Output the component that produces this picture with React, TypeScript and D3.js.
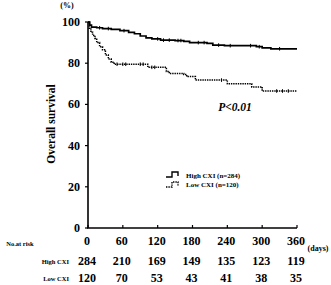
import { useRef, useEffect } from 'react';
import * as d3 from 'd3';

const W = 331;
const H = 285;

// Kaplan-Meier estimates (day, % surviving)
const highDays = [0, 3, 6, 15, 25, 40, 55, 70, 80, 90, 100, 110, 125, 150, 165, 175, 205, 215, 235, 290, 300, 315, 360];
const highSurv = [100, 98.5, 97.5, 97.2, 96.8, 96.4, 95.8, 95.0, 94.3, 93.2, 92.3, 91.8, 91.2, 91.0, 90.6, 90.0, 89.6, 88.8, 88.5, 88.0, 87.4, 87.0, 87.0];
const lowDays = [0, 2, 5, 8, 12, 15, 20, 25, 30, 35, 40, 45, 100, 103, 125, 135, 140, 165, 170, 185, 240, 282, 300, 360];
const lowSurv = [100, 97, 95, 93.5, 92, 90, 88, 86.5, 84, 82, 80.5, 79.5, 79.5, 78, 78, 76, 75, 74.5, 73.5, 71.8, 70, 68.5, 66.5, 66.5];

// censored observations (days)
const highCensor = [20, 35, 62, 120, 130, 140, 155, 160, 190, 200, 225, 245, 280, 295, 330];
const lowCensor = [50, 60, 65, 90, 95, 110, 115, 230, 325, 335, 345];

const xTicks = [0, 60, 120, 180, 240, 300, 360];
const yTicks = [0, 20, 40, 60, 80, 100];
const riskHigh = [284, 210, 169, 149, 135, 123, 119];
const riskLow = [120, 70, 53, 43, 41, 38, 35];

const FONT = '"Liberation Serif", "Times New Roman", serif';

export default function App() {
  const svgRef = useRef(null);

  useEffect(() => {
    const svg = d3.select(svgRef.current);
    svg.selectAll('*').remove();
    svg.attr('width', W).attr('height', H);

    const x = d3.scaleLinear().domain([0, 360]).range([88, 297]);
    const y = d3.scaleLinear().domain([0, 100]).range([228, 22]);

    const g = svg.append('g').attr('font-family', FONT).attr('font-weight', 'bold').attr('fill', '#000');

    // axes
    g.append('line').attr('x1', x(0)).attr('x2', x(0)).attr('y1', y(0)).attr('y2', y(100)).attr('stroke', '#000').attr('stroke-width', 1.6);
    g.append('line').attr('x1', x(0) - 1).attr('x2', x(360)).attr('y1', y(0)).attr('y2', y(0)).attr('stroke', '#000').attr('stroke-width', 1.6);

    yTicks.forEach((t) => {
      g.append('line').attr('x1', x(0) - 3).attr('x2', x(0)).attr('y1', y(t)).attr('y2', y(t)).attr('stroke', '#000').attr('stroke-width', 1.2);
      g.append('text').text(t).attr('x', 80).attr('y', y(t) + 4).attr('text-anchor', 'end').attr('font-size', 12);
    });
    xTicks.forEach((t, i) => {
      g.append('line').attr('x1', x(t)).attr('x2', x(t)).attr('y1', y(0)).attr('y2', y(0) - 3).attr('stroke', '#000').attr('stroke-width', 1.2);
      g.append('text').text(t).attr('x', x(t) - 1).attr('y', 245).attr('text-anchor', 'middle').attr('font-size', 12);
      g.append('text').text(riskHigh[i]).attr('x', x(t) - 1).attr('y', 265).attr('text-anchor', 'middle').attr('font-size', 12);
      g.append('text').text(riskLow[i]).attr('x', x(t) - 1).attr('y', 282).attr('text-anchor', 'middle').attr('font-size', 12);
    });

    g.append('text').text('(%)').attr('x', 67).attr('y', 8).attr('text-anchor', 'middle').attr('font-size', 8);
    g.append('text').text('(days)').attr('x', 318).attr('y', 251).attr('text-anchor', 'middle').attr('font-size', 8);
    g.append('text').text('Overall survival').attr('transform', 'translate(55,124) rotate(-90)').attr('text-anchor', 'middle').attr('font-size', 11.5);
    g.append('text').text('No.at risk').attr('x', 20).attr('y', 246).attr('text-anchor', 'middle').attr('font-size', 6.5);
    g.append('text').text('High CXI').attr('x', 69).attr('y', 264).attr('text-anchor', 'end').attr('font-size', 6.5);
    g.append('text').text('Low CXI').attr('x', 69).attr('y', 281).attr('text-anchor', 'end').attr('font-size', 6.5);
    g.append('text').text('P<0.01').attr('x', 235).attr('y', 111).attr('text-anchor', 'middle').attr('font-size', 11.5).attr('font-style', 'italic');

    const line = d3.line().curve(d3.curveStepAfter).x((d) => x(d[0])).y((d) => y(d[1]));
    const high = highDays.map((d, i) => [d, highSurv[i]]);
    const low = lowDays.map((d, i) => [d, lowSurv[i]]);

    g.append('path').attr('d', line(high)).attr('fill', 'none').attr('stroke', '#000').attr('stroke-width', 1.7);
    g.append('path').attr('d', line(low)).attr('fill', 'none').attr('stroke', '#000').attr('stroke-width', 1.5).attr('stroke-dasharray', '1.4,0.9');

    const survAt = (days, surv, t) => surv[d3.bisectRight(days, t) - 1];
    highCensor.forEach((t) => {
      const v = survAt(highDays, highSurv, t);
      g.append('line').attr('x1', x(t)).attr('x2', x(t)).attr('y1', y(v) - 1.8).attr('y2', y(v) + 1.8).attr('stroke', '#000').attr('stroke-width', 1);
    });
    lowCensor.forEach((t) => {
      const v = survAt(lowDays, lowSurv, t);
      g.append('line').attr('x1', x(t)).attr('x2', x(t)).attr('y1', y(v) - 1.8).attr('y2', y(v) + 1.8).attr('stroke', '#000').attr('stroke-width', 1);
    });

    // legend
    const lg = g.append('g').attr('transform', 'translate(166,175)');
    lg.append('path').attr('d', 'M0,2 H6 V-3 H12 V1').attr('fill', 'none').attr('stroke', '#000').attr('stroke-width', 1.4);
    lg.append('text').text('High CXI (n=284)').attr('x', 20).attr('y', 2.5).attr('font-size', 7);
    lg.append('path').attr('d', 'M0,12 H6 V7 H12 V11').attr('fill', 'none').attr('stroke', '#000').attr('stroke-width', 1.4).attr('stroke-dasharray', '1.4,1');
    lg.append('text').text('Low CXI (n=120)').attr('x', 20).attr('y', 12).attr('font-size', 7);
  }, []);

  return (
    <div style={{ position: 'absolute', left: 0, top: 0 }}>
      <svg ref={svgRef} style={{ display: 'block', background: '#fff' }} />
    </div>
  );
}
